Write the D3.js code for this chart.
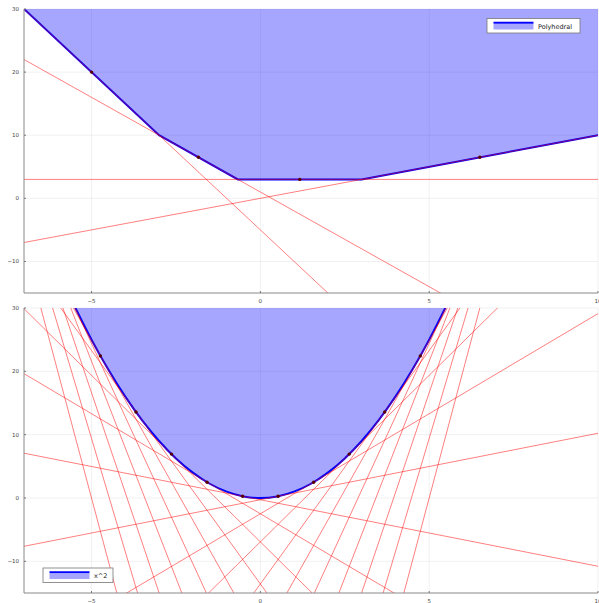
<!DOCTYPE html>
<html>
<head>
<meta charset="utf-8">
<script src="https://cdn.jsdelivr.net/npm/d3@7"></script>
<style>
  body { margin: 0; background: #fff; }
  svg { display: block; }
</style>
</head>
<body>
<div id="chart"></div>
<script>
// top panel: polyhedral function as max of 4 lines
const polySlopes = [-5, -3, 0, 1];
const polyIntercepts = [-5, 1, 3, 0];
const polyCurveX = [-7, -3, -0.667, 3, 10];
const polyCurveY = [30, 10, 3, 3, 10];
const polyDotX = [-5, -1.833, 1.167, 6.5];
const polyDotY = [20, 6.5, 3, 6.5];

// bottom panel: x^2 with tangent lines
const tangentX = [-10, -8.947, -7.895, -6.842, -5.789, -4.737, -3.684, -2.632, -1.579, -0.526,
                  0.526, 1.579, 2.632, 3.684, 4.737, 5.789, 6.842, 7.895, 8.947, 10];
const tangentY = [100, 80.05, 62.33, 46.81, 33.51, 22.44, 13.57, 6.93, 2.49, 0.277,
                  0.277, 2.49, 6.93, 13.57, 22.44, 33.51, 46.81, 62.33, 80.05, 100];
const tangentSlopes = [-20, -17.89, -15.79, -13.68, -11.58, -9.47, -7.37, -5.26, -3.16, -1.05,
                       1.05, 3.16, 5.26, 7.37, 9.47, 11.58, 13.68, 15.79, 17.89, 20];
const tangentIntercepts = [-100, -80.05, -62.33, -46.81, -33.51, -22.44, -13.57, -6.93, -2.49, -0.277,
                           -0.277, -2.49, -6.93, -13.57, -22.44, -33.51, -46.81, -62.33, -80.05, -100];
const sqCurveX = [-5.5, -5, -4.5, -4, -3.5, -3, -2.5, -2, -1.5, -1, -0.5, 0,
                  0.5, 1, 1.5, 2, 2.5, 3, 3.5, 4, 4.5, 5, 5.5];
const sqCurveY = [30.25, 25, 20.25, 16, 12.25, 9, 6.25, 4, 2.25, 1, 0.25, 0,
                  0.25, 1, 2.25, 4, 6.25, 9, 12.25, 16, 20.25, 25, 30.25];

const xTicks = [-5, 0, 5, 10];
const yTicks = [-10, 0, 10, 20, 30];

const width = 599, height = 603;
const svg = d3.select('#chart').append('svg')
    .attr('width', width)
    .attr('height', height);

const font = "'DejaVu Sans', sans-serif";

function drawPanel(opts) {
    const { top, bottom, id } = opts;
    const left = 24, right = 598;

    const x = d3.scaleLinear().domain([-7, 10]).range([left, right]);
    const y = d3.scaleLinear().domain([-15, 30]).range([bottom, top]);

    svg.append('clipPath').attr('id', id)
        .append('rect')
        .attr('x', left).attr('y', top)
        .attr('width', right - left).attr('height', bottom - top);

    const g = svg.append('g');

    // grid
    g.selectAll('.gx').data(xTicks).enter().append('line')
        .attr('x1', d => x(d)).attr('x2', d => x(d))
        .attr('y1', top).attr('y2', bottom)
        .attr('stroke', '#000').attr('stroke-opacity', 0.06);
    g.selectAll('.gy').data(yTicks).enter().append('line')
        .attr('x1', left).attr('x2', right)
        .attr('y1', d => y(d)).attr('y2', d => y(d))
        .attr('stroke', '#000').attr('stroke-opacity', 0.06);

    const plot = g.append('g').attr('clip-path', `url(#${id})`);

    // fill above the curve
    const pts = opts.curveX.map((d, i) => [d, opts.curveY[i]]);
    const area = d3.area()
        .x(d => x(d[0]))
        .y0(y(30))
        .y1(d => y(d[0] < -100 ? 0 : d[1]))
        .curve(opts.curve);
    plot.append('path')
        .datum(pts)
        .attr('d', area)
        .attr('fill', '#0000ff')
        .attr('fill-opacity', 0.35);

    plot.append('path')
        .datum(pts)
        .attr('d', d3.line().x(d => x(d[0])).y(d => y(d[1])).curve(opts.curve))
        .attr('fill', 'none')
        .attr('stroke', '#0000ff')
        .attr('stroke-width', 2);

    // supporting lines
    const lines = opts.slopes.map((s, i) => ({ s: s, b: opts.intercepts[i] }));
    plot.selectAll('.sup').data(lines).enter().append('line')
        .attr('x1', x(-7)).attr('x2', x(10))
        .attr('y1', d => y(d.s * -7 + d.b))
        .attr('y2', d => y(d.s * 10 + d.b))
        .attr('stroke', '#ff0000')
        .attr('stroke-opacity', 0.5)
        .attr('stroke-width', 1);

    // points
    plot.selectAll('.dot').data(opts.dotX).enter().append('circle')
        .attr('cx', d => x(d))
        .attr('cy', (d, i) => y(opts.dotY[i]))
        .attr('r', 1.7)
        .attr('fill', '#5a0000');

    // axes
    g.append('line').attr('x1', left).attr('x2', left).attr('y1', top).attr('y2', bottom)
        .attr('stroke', '#888').attr('stroke-width', 1);
    g.append('line').attr('x1', left).attr('x2', right).attr('y1', bottom).attr('y2', bottom)
        .attr('stroke', '#888').attr('stroke-width', 1);

    g.selectAll('.tx').data(xTicks).enter().append('line')
        .attr('x1', d => x(d)).attr('x2', d => x(d))
        .attr('y1', bottom).attr('y2', bottom - 2)
        .attr('stroke', '#777');
    g.selectAll('.ty').data(yTicks).enter().append('line')
        .attr('x1', left).attr('x2', left + 2)
        .attr('y1', d => y(d)).attr('y2', d => y(d))
        .attr('stroke', '#777');

    g.selectAll('.lx').data(xTicks).enter().append('text')
        .attr('x', d => x(d))
        .attr('y', bottom + 10)
        .attr('text-anchor', 'middle')
        .attr('font-family', font)
        .attr('font-size', 5.5)
        .attr('fill', '#444')
        .text(d => d < 0 ? '\u2212' + Math.abs(d) : d);
    g.selectAll('.ly').data(yTicks).enter().append('text')
        .attr('x', left - 5)
        .attr('y', d => y(d) + 2)
        .attr('text-anchor', 'end')
        .attr('font-family', font)
        .attr('font-size', 5.5)
        .attr('fill', '#444')
        .text(d => d < 0 ? '\u2212' + Math.abs(d) : d);

    // legend
    const lg = opts.legend;
    g.append('rect')
        .attr('x', lg.x).attr('y', lg.y)
        .attr('width', lg.w).attr('height', 14.5)
        .attr('fill', '#fff')
        .attr('stroke', '#777').attr('stroke-width', 0.8);
    g.append('rect')
        .attr('x', lg.x + 6.5).attr('y', lg.y + 5.5)
        .attr('width', 40).attr('height', 5.5)
        .attr('fill', '#0000ff').attr('fill-opacity', 0.35);
    g.append('line')
        .attr('x1', lg.x + 6.5).attr('x2', lg.x + 46.5)
        .attr('y1', lg.y + 4.3).attr('y2', lg.y + 4.3)
        .attr('stroke', '#0000ff').attr('stroke-width', 2);
    g.append('text')
        .attr('x', lg.x + 51).attr('y', lg.y + 10)
        .attr('font-family', font)
        .attr('font-size', 6.5)
        .attr('fill', '#222')
        .text(lg.label);
}

drawPanel({
    id: 'clipTop', top: 9, bottom: 293,
    curveX: polyCurveX, curveY: polyCurveY, curve: d3.curveLinear,
    slopes: polySlopes, intercepts: polyIntercepts,
    dotX: polyDotX, dotY: polyDotY,
    legend: { x: 487, y: 18.5, w: 93, label: 'Polyhedral' }
});

drawPanel({
    id: 'clipBottom', top: 308, bottom: 593,
    curveX: sqCurveX, curveY: sqCurveY, curve: d3.curveNatural,
    slopes: tangentSlopes, intercepts: tangentIntercepts,
    dotX: tangentX, dotY: tangentY,
    legend: { x: 43, y: 568, w: 70, label: 'x^2' }
});
</script>
</body>
</html>
